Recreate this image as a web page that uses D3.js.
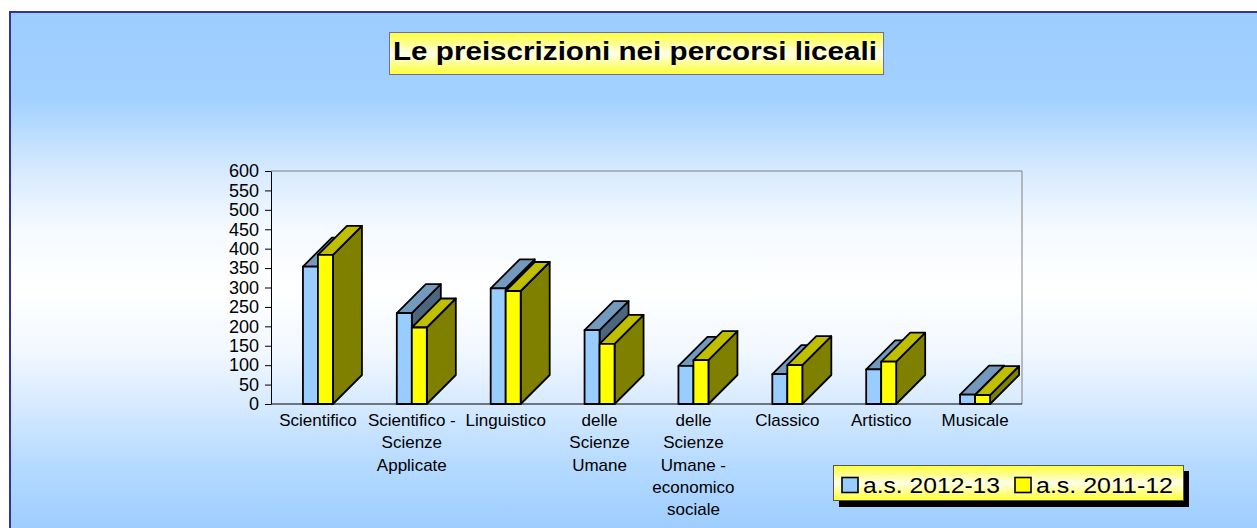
<!DOCTYPE html>
<html>
<head>
<meta charset="utf-8">
<script src="https://cdn.jsdelivr.net/npm/d3@7"></script>
<style>
  body { margin: 0; background: #fff; }
  svg { display: block; font-family: "Liberation Sans", Arial, sans-serif; }
</style>
</head>
<body>
<div id="chart"></div>
<script>
// --- data ---
const categories = [
  "Scientifico",
  "Scientifico -\nScienze\nApplicate",
  "Linguistico",
  "delle\nScienze\nUmane",
  "delle\nScienze\nUmane -\neconomico\nsociale",
  "Classico",
  "Artistico",
  "Musicale"
];
const seriesNames = ["a.s. 2012-13", "a.s. 2011-12"];
const values2012 = [354, 234, 298, 190, 98, 77, 89, 24];
const values2011 = [384, 197, 291, 155, 113, 100, 109, 23];
const yTicks = [0, 50, 100, 150, 200, 250, 300, 350, 400, 450, 500, 550, 600];
const titleText = "Le preiscrizioni nei percorsi liceali";

// colours: front, top, side for each series
const faceColors = [
  { front: "#99CCFF", top: "#7399BF", side: "#4D6680" },
  { front: "#FFFF00", top: "#BFBF00", side: "#808000" }
];

const W = 1257, H = 528;
const plot = { left: 271, right: 1022, top: 171, bottom: 404 };
const depthX = 29, depthY = 29; // 3D depth offset
const clusterW = 30;

const svg = d3.select("#chart").append("svg")
  .attr("width", W).attr("height", H);

const defs = svg.append("defs");

// chart background gradient (blue - white - blue)
const bg = defs.append("linearGradient")
  .attr("id", "bgGrad")
  .attr("gradientUnits", "userSpaceOnUse")
  .attr("x1", 0).attr("y1", 12).attr("x2", 0).attr("y2", 528);
[[12, "#9ccdff"], [100, "#a3d1ff"], [170, "#d6eaff"], [230, "#f5faff"], [290, "#ffffff"],
 [350, "#f2f8ff"], [405, "#d6eaff"], [465, "#b5daff"], [528, "#9ecdff"]]
  .forEach(([y, c]) => bg.append("stop").attr("offset", (y - 12) / 516).attr("stop-color", c));

// yellow boxes gradient (yellow - pale - yellow)
const yg = defs.append("linearGradient")
  .attr("id", "yellowGrad")
  .attr("x1", 0).attr("y1", 0).attr("x2", 0).attr("y2", 1);
yg.append("stop").attr("offset", 0).attr("stop-color", "#ffff33");
yg.append("stop").attr("offset", 0.5).attr("stop-color", "#ffffe8");
yg.append("stop").attr("offset", 1).attr("stop-color", "#ffff33");

// chart area
svg.append("rect")
  .attr("x", 10).attr("y", 12)
  .attr("width", W + 20).attr("height", H + 20)
  .attr("fill", "url(#bgGrad)")
  .attr("stroke", "#333399")
  .attr("stroke-width", 2);

// --- title ---
svg.append("rect")
  .attr("x", 389.5).attr("y", 32.5)
  .attr("width", 494).attr("height", 42)
  .attr("fill", "url(#yellowGrad)")
  .attr("stroke", "#6b6bb5")
  .attr("stroke-width", 1);

svg.append("text")
  .attr("x", 393).attr("y", 60)
  .attr("textLength", 484)
  .attr("lengthAdjust", "spacingAndGlyphs")
  .style("font-size", "25.5px")
  .style("font-weight", "bold")
  .text(titleText);

// --- scales ---
const x0 = d3.scaleBand()
  .domain(categories)
  .range([plot.left, plot.right]);

const x1 = d3.scaleBand()
  .domain(seriesNames)
  .range([0, clusterW]);

const y = d3.scaleLinear()
  .domain([0, 600])
  .range([plot.bottom, plot.top]);

// plot frame (top and right)
svg.append("path")
  .attr("d", `M${plot.left},${plot.top}H${plot.right}V${plot.bottom}`)
  .attr("fill", "none")
  .attr("stroke", "#808080")
  .attr("stroke-width", 1);

// y axis
const yAxis = svg.append("g")
  .attr("transform", `translate(${plot.left},0)`)
  .call(d3.axisLeft(y).tickValues(yTicks).tickSize(6).tickSizeOuter(0).tickPadding(6));
yAxis.selectAll("text")
  .style("font-size", "18px")
  .style("font-family", "'Liberation Sans', Arial, sans-serif")
  .attr("fill", "#000");
yAxis.selectAll("line, path").attr("stroke", "#000");

// x axis line
svg.append("line")
  .attr("x1", plot.left).attr("x2", plot.right)
  .attr("y1", plot.bottom).attr("y2", plot.bottom)
  .attr("stroke", "#000");

// --- bars ---
const rows = categories.map((c, i) => ({
  cat: c,
  vals: [values2012[i], values2011[i]]
}));

const barsG = svg.append("g");
rows.forEach(r => {
  const g = barsG.append("g");
  seriesNames.forEach((s, j) => {
    const bx = x0(r.cat) + x0.bandwidth() / 2 - clusterW / 2 + x1(s);
    const bw = x1.bandwidth();
    const yt = y(r.vals[j]);
    const yb = y(0);
    const col = faceColors[j];

    // side face
    g.append("path")
      .attr("d", `M${bx + bw},${yb}L${bx + bw + depthX},${yb - depthY}L${bx + bw + depthX},${yt - depthY}L${bx + bw},${yt}Z`)
      .attr("fill", col.side);
    // top face
    g.append("path")
      .attr("d", `M${bx},${yt}L${bx + depthX},${yt - depthY}L${bx + bw + depthX},${yt - depthY}L${bx + bw},${yt}Z`)
      .attr("fill", col.top);
    // front face
    g.append("rect")
      .attr("x", bx).attr("y", yt)
      .attr("width", bw).attr("height", yb - yt)
      .attr("fill", col.front);
  });
});
barsG.selectAll("path, rect")
  .attr("stroke", "#000")
  .attr("stroke-width", 1.8)
  .attr("stroke-linejoin", "round");

// --- category labels ---
const labels = svg.append("g");
categories.forEach(c => {
  const t = labels.append("text")
    .attr("text-anchor", "middle")
    .style("font-size", "17px")
    .attr("fill", "#000");
  c.split("\n").forEach((line, k) => {
    t.append("tspan")
      .attr("x", x0(c) + x0.bandwidth() / 2)
      .attr("y", 426 + k * 22.3)
      .text(line);
  });
});

// --- legend ---
const lg = svg.append("g");
lg.append("rect")
  .attr("x", 839).attr("y", 471)
  .attr("width", 350).attr("height", 36)
  .attr("fill", "#000");
lg.append("rect")
  .attr("x", 833.5).attr("y", 465.5)
  .attr("width", 350).attr("height", 35)
  .attr("fill", "url(#yellowGrad)")
  .attr("stroke", "#555")
  .attr("stroke-width", 1);

const legendX = [842, 1015];
seriesNames.forEach((s, j) => {
  lg.append("rect")
    .attr("x", legendX[j]).attr("y", 477.5)
    .attr("width", 16).attr("height", 15)
    .attr("fill", faceColors[j].front)
    .attr("stroke", "#000")
    .attr("stroke-width", 1.6);
  lg.append("text")
    .attr("x", legendX[j] + 21).attr("y", 493)
    .attr("textLength", 137)
    .attr("lengthAdjust", "spacingAndGlyphs")
    .style("font-size", "22px")
    .attr("fill", "#000")
    .text(s);
});
</script>
</body>
</html>
